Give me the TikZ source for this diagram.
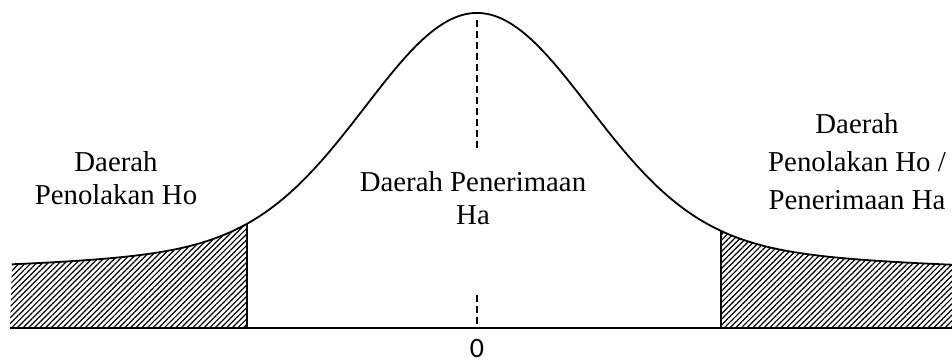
\documentclass[tikz,border=0pt]{standalone}
\usepackage{fontspec}
\setmainfont{Liberation Serif}
\newfontfamily\zerofont{Carlito}
\usetikzlibrary{patterns.meta}

\begin{document}
\begin{tikzpicture}[
x=0.5pt, y=0.5pt,
declare function={bell(\t)=34+225*exp(-((\t-477)/100)^2/2.42)+58+32*exp(-((\t-477)/100)^2/12.5);},
curve/.style={line width=0.9pt},
cut/.style={line width=0.9pt},
hatch/.style={pattern={Lines[angle=45, distance=2pt, line width=0.6pt]}},
guide/.style={line width=0.9pt, dash pattern=on 3.5pt off 2pt},
lbl/.style={align=center, font=\fontsize{14.4}{16.5}\selectfont}
]
\useasboundingbox (0,0) rectangle (952,362);
\coordinate (axl) at (10,34);
\coordinate (axr) at (952,34);
\coordinate (lfoot) at (247,34);
\coordinate (lcut) at (247,{bell(247)});
\coordinate (rfoot) at (721,34);
\coordinate (rcut) at (721,{bell(721)});
\coordinate (dtop) at (477,342);
\coordinate (dmid) at (477,212);
\coordinate (dlow) at (477,67);
\coordinate (orig) at (477,34);
\fill[hatch] (axl) -- plot[domain=12:247, samples=40] (\x,{bell(\x)}) -- (lfoot) -- cycle;
\fill[hatch] (rfoot) -- plot[domain=721:952, samples=40] (\x,{bell(\x)}) -- (axr) -- cycle;
\draw[curve] plot[domain=12:952, samples=150, smooth] (\x,{bell(\x)});
\draw[cut] (lfoot) -- (lcut);
\draw[cut] (rfoot) -- (rcut);
\draw[line width=0.9pt] (axl) -- (axr);
\draw[guide] (dtop) -- (dmid);
\draw[guide] (dlow) -- (orig);
\node[lbl] (reject) at (116,184) {Daerah\\Penolakan Ho};
\node[lbl] (accept) at (473,163.5) {Daerah Penerimaan\\Ha};
\node[lbl, font=\fontsize{14.4}{19}\selectfont] (rejectr) at (857,200.5) {Daerah\\Penolakan Ho /\\Penerimaan Ha};
\node[font=\zerofont\fontsize{14}{16}\selectfont, anchor=base, inner sep=0pt] (zero) at (477,4) {0};
\end{tikzpicture}
\end{document}
